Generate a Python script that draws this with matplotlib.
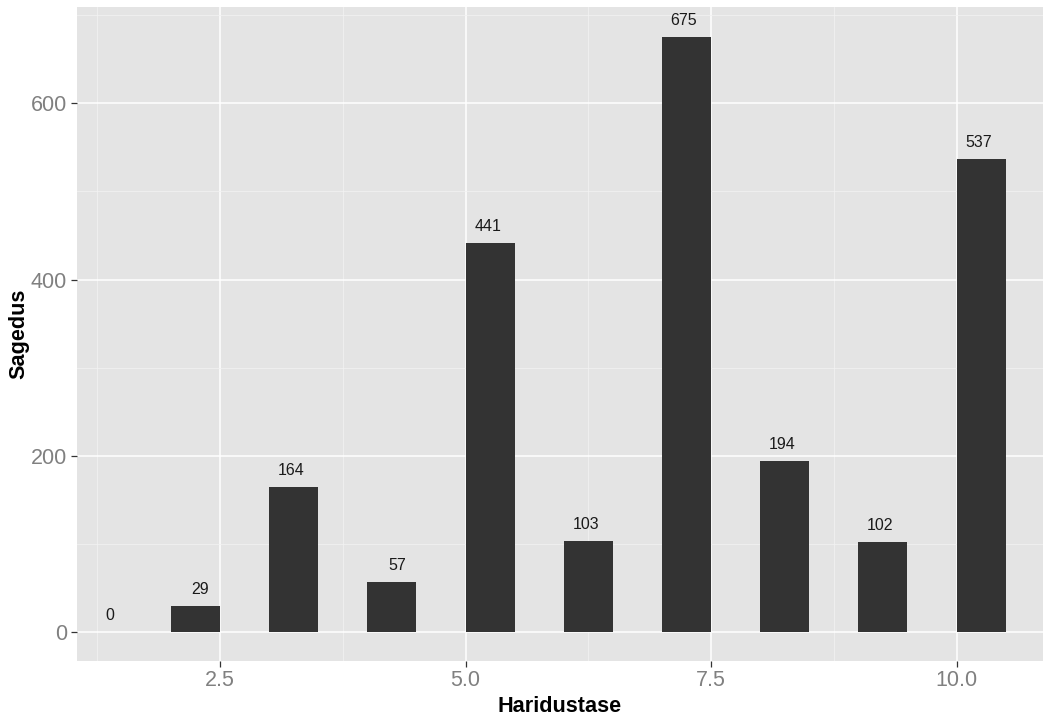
import matplotlib
matplotlib.use("Agg")
import matplotlib.pyplot as plt
import numpy as np

# Data
positions = [1, 2, 3, 4, 5, 6, 7, 8, 9, 10]
values = [0, 29, 164, 57, 441, 103, 675, 194, 102, 537]
labels = [str(v) for v in values]
x_ticks = [2.5, 5.0, 7.5, 10.0]
x_ticklabels = ["2.5", "5.0", "7.5", "10.0"]
y_ticks = [0, 200, 400, 600]
y_ticklabels = ["0", "200", "400", "600"]

plt.rcParams['font.family'] = ['Liberation Sans', 'DejaVu Sans']

fig = plt.figure(figsize=(10.44, 7.16), dpi=100)
ax = fig.add_axes([0.0735, 0.0772, 0.9255, 0.913])
ax.set_facecolor('#E4E4E4')

bar_w = 0.5
ax.bar(np.array(positions) + bar_w / 2, values, width=bar_w, color='#333333', zorder=3)

for p, v, lab in zip(positions, values, labels):
    shift = (3 - len(lab)) * 0.075
    ax.annotate(lab, xy=(p + 0.225 + shift, v), xytext=(0, 12), textcoords='offset points',
                ha='center', va='center', fontsize=11.5, color='#1a1a1a', zorder=4)

ax.set_xlim(1.041, 10.88)
ax.set_ylim(-32.6, 709.3)

ax.set_xticks(x_ticks)
ax.set_xticklabels(x_ticklabels)
ax.set_yticks(y_ticks)
ax.set_yticklabels(y_ticklabels)
ax.set_xticks([1.25, 3.75, 6.25, 8.75], minor=True)
ax.set_yticks([100, 300, 500, 700], minor=True)

ax.grid(which='major', color='white', linewidth=1.1, zorder=0)
ax.grid(which='minor', color='#F2F2F2', linewidth=0.55, zorder=0)
ax.set_axisbelow(True)

for s in ax.spines.values():
    s.set_visible(False)

ax.tick_params(axis='both', which='major', length=4, width=0.9, color='#333333',
               labelcolor='#808080', labelsize=15.5, pad=3)
ax.tick_params(axis='both', which='minor', length=0)

ax.set_xlabel('Haridustase', fontsize=15.6, fontweight='bold', labelpad=3)
ax.set_ylabel('Sagedus', fontsize=15.6, fontweight='bold', labelpad=1)

fig.savefig('out.png', dpi=100)
